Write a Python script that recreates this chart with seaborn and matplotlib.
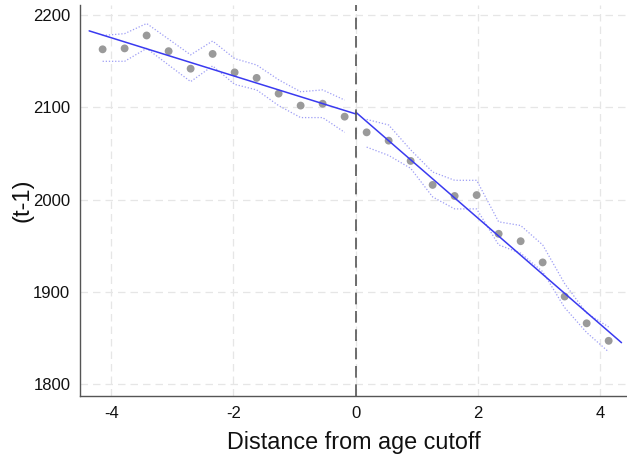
import numpy as np
import pandas as pd
import matplotlib
matplotlib.use("Agg")
import matplotlib.pyplot as plt
import seaborn as sns

# Binned means on each side of the cutoff
bins_left = [-4.14, -3.78, -3.42, -3.06, -2.70, -2.34, -1.98, -1.62, -1.26, -0.90, -0.54, -0.18]
bins_right = [0.18, 0.54, 0.90, 1.26, 1.62, 1.98, 2.34, 2.70, 3.06, 3.42, 3.78, 4.14]
mean_left = [2163, 2164, 2178, 2161, 2142, 2158, 2138, 2132, 2115, 2102, 2104, 2090]
mean_right = [2073, 2064, 2042, 2016, 2004, 2005, 1963, 1955, 1932, 1895, 1866, 1847]

# Confidence bands of the binned means
upper_left = [2178, 2180, 2191, 2174, 2157, 2172, 2153, 2146, 2130, 2117, 2119, 2108]
lower_left = [2150, 2150, 2164, 2146, 2128, 2145, 2125, 2119, 2102, 2089, 2089, 2073]
upper_right = [2087, 2081, 2054, 2030, 2021, 2021, 1976, 1972, 1951, 1909, 1877, 1862]
lower_right = [2057, 2048, 2034, 2003, 1990, 1990, 1951, 1942, 1922, 1883, 1856, 1835]

# Linear fits on each side
fit_x_left = [-4.36, 0.0]
fit_y_left = [2183, 2093]
fit_x_right = [0.0, 4.35]
fit_y_right = [2095, 1845]

x_ticks = [-4, -2, 0, 2, 4]
y_ticks = [1800, 1900, 2000, 2100, 2200]

sns.set_style("white")
plt.rcParams["font.family"] = ["Liberation Sans", "DejaVu Sans"]
plt.rcParams["axes.unicode_minus"] = False

fig = plt.figure(figsize=(6.27, 4.58), dpi=100)
ax = fig.add_axes([0.1276, 0.135, 0.8724, 0.854])

ax.set_xlim(-4.51, 4.44)
ax.set_ylim(1787, 2211)
ax.set_xticks(x_ticks)
ax.set_yticks(y_ticks)
ax.grid(True, color="#e6e6e6", linestyle=(0, (6, 4)), linewidth=0.9)
ax.set_axisbelow(True)

points = pd.DataFrame({"x": bins_left + bins_right, "y": mean_left + mean_right})
sns.scatterplot(data=points, x="x", y="y", ax=ax, color="#9a9a9a", s=32,
                edgecolor="none", zorder=3)

band_style = dict(color="#9e9ef5", linewidth=0.9, linestyle=(0, (1, 1.5)),
                  sort=False, estimator=None, zorder=2)
for xs, ys in [(bins_left, upper_left), (bins_left, lower_left),
               (bins_right, upper_right), (bins_right, lower_right)]:
    sns.lineplot(x=xs, y=ys, ax=ax, **band_style)

for xs, ys in [(fit_x_left, fit_y_left), (fit_x_right, fit_y_right)]:
    sns.lineplot(x=xs, y=ys, ax=ax, color="#3a3af0", linewidth=1.1,
                 sort=False, estimator=None, zorder=4)

ax.axvline(0, color="#555555", linewidth=1.2, linestyle=(0, (7, 4)), zorder=5)

for side in ["top", "right"]:
    ax.spines[side].set_visible(False)
for side in ["left", "bottom"]:
    ax.spines[side].set_color("#555555")
    ax.spines[side].set_linewidth(1.0)

ax.tick_params(axis="both", direction="out", length=4, width=0.9,
               color="#777777", labelsize=12, labelcolor="#111111", pad=3)
ax.set_xlabel("Distance from age cutoff", fontsize=16.8, color="#111111", labelpad=7)
ax.set_ylabel("(t-1)", fontsize=17, color="#111111", labelpad=0)

fig.savefig("out.png", dpi=100)
